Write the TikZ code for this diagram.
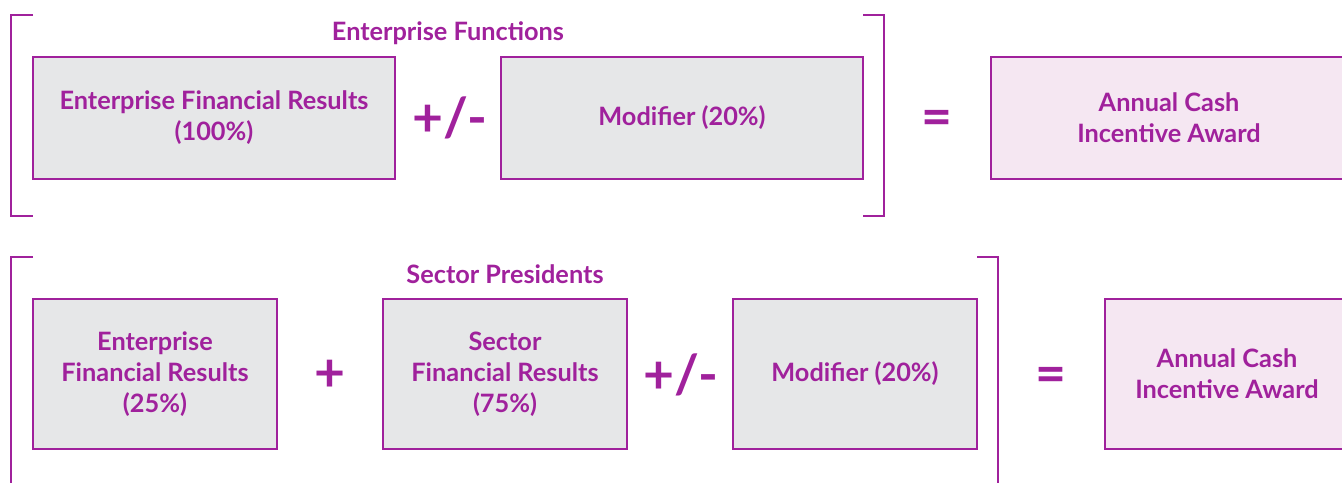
\documentclass[tikz,border=0pt]{standalone}
\usepackage{fontspec}
\setmainfont{Lato}
\usetikzlibrary{positioning}
\definecolor{plum}{HTML}{A0219C}
\definecolor{boxgray}{HTML}{E6E7E8}
\definecolor{boxpink}{HTML}{F5E7F2}
\tikzset{
  part/.style={draw=plum, line width=1.4pt, fill=boxgray, text=plum,
    font=\fontsize{18}{22}\selectfont\bfseries, align=center, inner sep=0pt},
  award/.style={part, fill=boxpink},
  oper/.style={text=plum, font=\fontsize{38}{38}\selectfont\bfseries, inner sep=0pt},
  heading/.style={text=plum, font=\fontsize{18}{22}\selectfont\bfseries, inner sep=0pt},
  brace/.style={draw=plum, line width=1.4pt}
}

\begin{document}
\begin{tikzpicture}[x=0.025cm, y=-0.025cm]
        \useasboundingbox (0,0) rectangle (1342,482);
        % enterprise functions
        \draw[brace] (33,15) -- (11,15) -- (11,216) -- (33,216);
        \draw[brace] (863,15) -- (884,15) -- (884,216) -- (863,216);
        \node[heading] (efTitle) at (448,33) {Enterprise Functions};
        \node[part, minimum width=9.05cm, minimum height=3.05cm] (efResults) at (214,118)
        {Enterprise Financial Results\\(100\%)};
        \node[oper] (efPm) at (450,118) {+/-};
        \node[part, minimum width=9.05cm, minimum height=3.05cm] (efModifier) at (682,118)
        {Modifier (20\%)};
        \node[oper] (efEq) at (937,123) {=};
        \node[award, minimum width=8.9cm, minimum height=3.05cm] (efAward) at (1169,118)
        {Annual Cash\\Incentive Award};
        % sector presidents
        \draw[brace] (33,257) -- (11,257) -- (11,490);
        \draw[brace] (977,257) -- (998,257) -- (998,490);
        \node[heading] (spTitle) at (505,274) {Sector Presidents};
        \node[part, minimum width=6.1cm, minimum height=3.75cm] (spEnterprise) at (155,374)
        {Enterprise\\Financial Results\\(25\%)};
        \node[oper] (spPlus) at (330,376) {+};
        \node[part, minimum width=6.1cm, minimum height=3.75cm] (spSector) at (505,374)
        {Sector\\Financial Results\\(75\%)};
        \node[oper] (spPm) at (681,375) {+/-};
        \node[part, minimum width=6.1cm, minimum height=3.75cm] (spModifier) at (855,374)
        {Modifier (20\%)};
        \node[oper] (spEq) at (1051,380) {=};
        \node[award, minimum width=6.1cm, minimum height=3.75cm] (spAward) at (1227,374)
        {Annual Cash\\Incentive Award};
\end{tikzpicture}
\end{document}
